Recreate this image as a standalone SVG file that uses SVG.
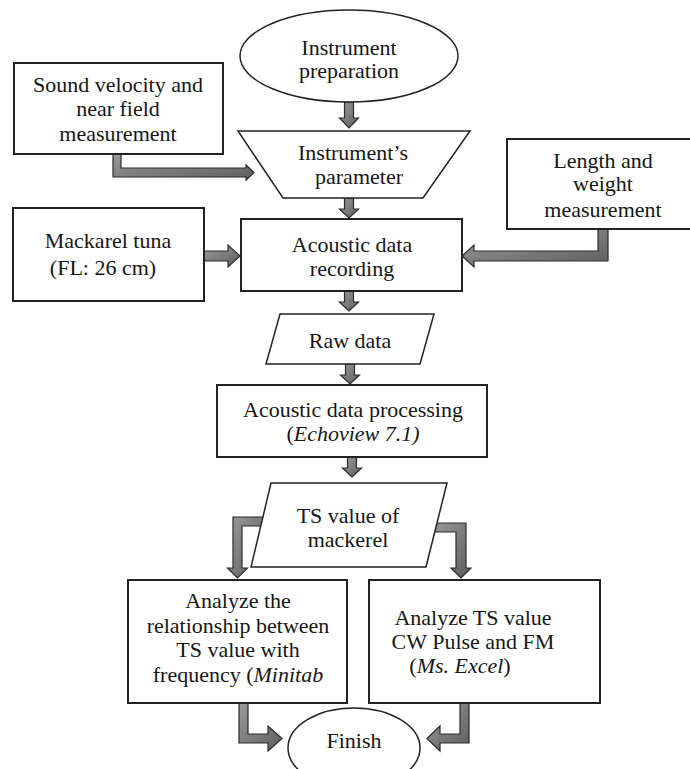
<svg xmlns="http://www.w3.org/2000/svg" width="690" height="769" viewBox="0 0 690 769">
<defs>
<linearGradient id="ag" x1="0" y1="0" x2="1" y2="1">
<stop offset="0" stop-color="#9a9a9a"/>
<stop offset="1" stop-color="#5e5e5e"/>
</linearGradient>
<style>
.box{fill:#fff;stroke:#222;stroke-width:2}
.shp{fill:#fff;stroke:#222;stroke-width:1.5}
.arr{fill:url(#ag);stroke:#2a2a2a;stroke-width:1.2;stroke-linejoin:miter}
text{font-family:"Liberation Serif","Times New Roman",serif;font-size:22px;fill:#161616;text-anchor:middle}
.it{font-style:italic}
</style>
</defs>
<rect width="690" height="769" fill="#fff"/>
<g id="connectors">
<path class="arr" d="M344.5,102 L353.5,102 L353.5,118 L358.5,118 L349,128 L339.5,118 L344.5,118 Z"/>
<path class="arr" d="M113,154 L121,154 L121,168 L246,168 L246,165 L254,172.5 L246,180 L246,177 L113,177 Z"/>
<path class="arr" d="M344.5,198 L353.5,198 L353.5,209 L358.5,209 L349,218 L339.5,209 L344.5,209 Z"/>
<path class="arr" d="M204,251 L228,251 L228,245 L240,256 L228,267 L228,261 L204,261 Z"/>
<path class="arr" d="M598,229 L608,229 L608,261 L474,261 L474,267 L462,256 L474,245 L474,251 L598,251 Z"/>
<path class="arr" d="M344.5,291 L353.5,291 L353.5,302 L358.5,302 L349,311 L339.5,302 L344.5,302 Z"/>
<path class="arr" d="M345.5,364 L354.5,364 L354.5,375 L359.5,375 L350,384 L340.5,375 L345.5,375 Z"/>
<path class="arr" d="M347.5,457 L356.5,457 L356.5,468 L361.5,468 L352,477 L342.5,468 L347.5,468 Z"/>
<path class="arr" d="M264,517 L264,526 L242,526 L242,568 L247.5,568 L237.5,578 L227.5,568 L233,568 L233,517 Z"/>
<path class="arr" d="M430,523 L466,523 L466,568 L471,568 L461,578 L451,568 L456,568 L456,532 L430,532 Z"/>
<path class="arr" d="M239,703 L248,703 L248,734 L268,734 L268,726 L282,738.5 L268,751 L268,743 L239,743 Z"/>
<path class="arr" d="M460,703 L469,703 L469,743 L440,743 L440,751 L427,738.5 L440,726 L440,734 L460,734 Z"/>
</g>
<g id="n-prep">
<ellipse class="shp" cx="349" cy="56" rx="109" ry="46"/>
<text x="349" y="55">Instrument</text>
<text x="349" y="78">preparation</text>
</g>
<g id="n-sound">
<rect class="box" x="14" y="63" width="209" height="91"/>
<text x="118" y="92">Sound velocity and</text>
<text x="118" y="116">near field</text>
<text x="118" y="141">measurement</text>
</g>
<g id="n-param">
<polygon class="shp" points="238,131 470,131 423,198 283,198"/>
<text x="353" y="160">Instrument’s</text>
<text x="359" y="184">parameter</text>
</g>
<g id="n-length">
<rect class="box" x="507" y="139" width="192" height="90"/>
<text x="603" y="168">Length and</text>
<text x="603" y="191">weight</text>
<text x="603" y="217">measurement</text>
</g>
<g id="n-mackarel">
<rect class="box" x="13" y="208" width="191" height="93"/>
<text x="108" y="248">Mackarel tuna</text>
<text x="103" y="275">(FL: 26 cm)</text>
</g>
<g id="n-record">
<rect class="box" x="241" y="219" width="221" height="72"/>
<text x="352" y="252">Acoustic data</text>
<text x="352" y="276">recording</text>
</g>
<g id="n-raw">
<polygon class="shp" points="280,314 434,314 420,364 266,364"/>
<text x="350" y="348">Raw data</text>
</g>
<g id="n-process">
<rect class="box" x="217" y="385" width="270" height="72"/>
<text x="353" y="417">Acoustic data processing</text>
<text x="353" y="441">(<tspan class="it">Echoview 7.1)</tspan></text>
</g>
<g id="n-ts">
<polygon class="shp" points="271,483 447,483 426,567 251,567"/>
<text x="348" y="523">TS value of</text>
<text x="348" y="547">mackerel</text>
</g>
<g id="n-analyze1">
<rect class="box" x="128" y="580" width="219" height="123"/>
<text x="238" y="608">Analyze the</text>
<text x="238" y="633">relationship between</text>
<text x="238" y="657">TS value with</text>
<text x="238" y="682">frequency (<tspan class="it">Minitab</tspan></text>
</g>
<g id="n-analyze2">
<rect class="box" x="369" y="580" width="231" height="123"/>
<text x="473" y="625">Analyze TS value</text>
<text x="473" y="649">CW Pulse and FM</text>
<text x="460" y="673">(<tspan class="it">Ms. Excel</tspan>)</text>
</g>
<g id="n-finish">
<ellipse class="shp" cx="354" cy="748" rx="66" ry="40"/>
<text x="354" y="748">Finish</text>
</g>
</svg>
